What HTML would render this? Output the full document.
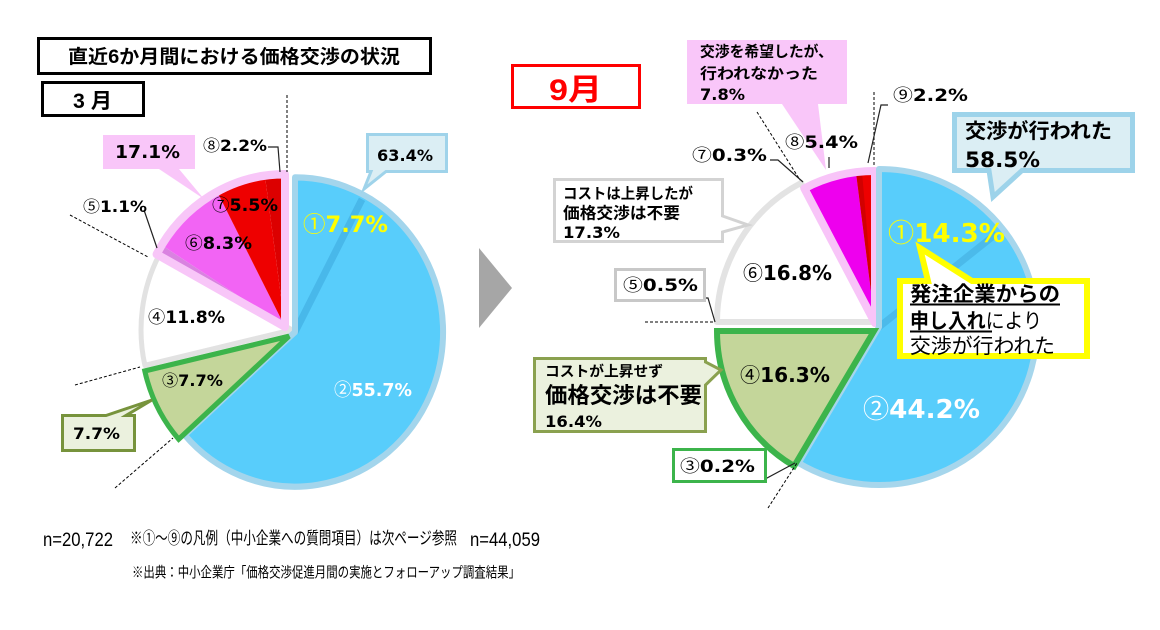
<!DOCTYPE html>
<html><head><meta charset="utf-8">
<style>
html,body{margin:0;padding:0;background:#fff;width:1160px;height:630px;overflow:hidden}
svg{display:block}
.p{font-family:"DejaVu Sans","Noto Sans CJK JP",sans-serif;font-weight:bold}
.c{font-family:"Noto Sans CJK JP",sans-serif;font-weight:normal}
.j{font-family:"Liberation Sans","Noto Sans CJK JP",sans-serif;font-weight:bold}
.n{font-family:"Liberation Sans","Noto Sans CJK JP",sans-serif;font-weight:normal}
</style></head>
<body>
<svg width="1160" height="630" viewBox="0 0 1160 630" xmlns="http://www.w3.org/2000/svg">
<rect width="1160" height="630" fill="#fff"/>

<!-- Title -->
<rect x="38.5" y="38.5" width="392" height="35" fill="#fff" stroke="#000" stroke-width="3"/>
<text class="j" x="68" y="63" font-size="19" textLength="332" lengthAdjust="spacingAndGlyphs">直近6か月間における価格交渉の状況</text>
<rect x="42.5" y="82.5" width="101" height="33" fill="#fff" stroke="#000" stroke-width="3"/>
<text class="j" x="73" y="108" font-size="21" textLength="39" lengthAdjust="spacingAndGlyphs">3 月</text>

<!-- Arrow -->
<polygon points="479,248 479,328 512,288" fill="#a6a6a6"/>

<!-- LEFT PIE -->
<g transform="translate(295,332) scale(1,1.045)">
  <path d="M-3,-2 L-150.1,32 A151,151 0 0 1 -135.8,-73.8 Z" fill="#fff" stroke="#e2e2e2" stroke-width="5" stroke-linejoin="round"/>
  <path d="M-10,-5 L-138.4,-74.4 A146,146 0 0 1 -133.3,-83.2 Z" fill="#d982e0"/>
  <path d="M-10,-5 L-133.3,-83.2 A146,146 0 0 1 -77.9,-134.3 Z" fill="#f264f4"/>
  <path d="M-10,-5 L-77.9,-134.3 A146,146 0 0 1 -30.1,-149.6 Z" fill="#ee0000"/>
  <path d="M-10,-5 L-30.1,-149.6 A146,146 0 0 1 -10,-151 Z" fill="#dc0000"/>
  <path d="M-10,-5 L-138.4,-74.4 A146,146 0 0 1 -10,-151 Z" fill="none" stroke="#f8c6f8" stroke-width="8" stroke-linejoin="round"/>
  <path d="M0,0 L0,-148 A148,148 0 1 1 -110.3,98.6 Z" fill="#58cdfb"/>
  <line x1="0" y1="0" x2="67" y2="-127" stroke="#48b8ea" stroke-width="7"/>
  <path d="M0,0 L0,-148 A148,148 0 1 1 -110.3,98.6 Z" fill="none" stroke="#a3d5ec" stroke-width="6" stroke-linejoin="round"/>
  <path d="M-6,4 L-116.3,102.6 A148,148 0 0 1 -150.2,37.3 Z" fill="#c4d69a" stroke="#3cb44b" stroke-width="5"/>
</g>

<!-- LEFT dashed / leaders -->
<g stroke="#000" stroke-width="1" stroke-dasharray="3,2" fill="none">
  <line x1="287" y1="95" x2="287" y2="172"/>
  <line x1="70" y1="215" x2="148" y2="257"/>
  <line x1="75" y1="385" x2="140" y2="367"/>
  <line x1="115" y1="488" x2="173" y2="438"/>
</g>
<g stroke="#222" stroke-width="1.2" fill="none">
  <polyline points="268,147 278,147 280,172"/>
  <line x1="144" y1="210" x2="157" y2="248"/>
</g>

<!-- LEFT callouts -->
<path d="M103,135 H195 V169 H179 L204,199 L159,169 H103 Z" fill="#f9c6f9"/>
<text class="p" x="115" y="158" font-size="18" textLength="65" lengthAdjust="spacingAndGlyphs">17.1%</text>
<path d="M367.5,134.5 H446.5 V171.5 H386 L364,189 L371,171.5 H367.5 Z" fill="#dbeef4" stroke="#9fd3ea" stroke-width="3"/>
<text class="p" x="377" y="161" font-size="16" textLength="56" lengthAdjust="spacingAndGlyphs">63.4%</text>
<path d="M62.5,415.5 H106 L152,400 L126,415.5 H134.5 V450.5 H62.5 Z" fill="#ebf1de" stroke="#77933c" stroke-width="3"/>
<text class="p" x="73" y="439" font-size="16" textLength="47" lengthAdjust="spacingAndGlyphs">7.7%</text>

<!-- LEFT labels -->
<text class="p" x="203" y="151" font-size="16" textLength="64" lengthAdjust="spacingAndGlyphs"><tspan class="c">⑧</tspan>2.2%</text>
<text class="p" x="303" y="232" font-size="22" fill="#ffff00" textLength="85" lengthAdjust="spacingAndGlyphs"><tspan class="c">①</tspan>7.7%</text>
<text class="p" x="212" y="211" font-size="17" textLength="66" lengthAdjust="spacingAndGlyphs"><tspan class="c">⑦</tspan>5.5%</text>
<text class="p" x="185" y="249" font-size="17" textLength="67" lengthAdjust="spacingAndGlyphs"><tspan class="c">⑥</tspan>8.3%</text>
<text class="p" x="83" y="212" font-size="16" textLength="64" lengthAdjust="spacingAndGlyphs"><tspan class="c">⑤</tspan>1.1%</text>
<text class="p" x="148" y="323" font-size="17" textLength="77" lengthAdjust="spacingAndGlyphs"><tspan class="c">④</tspan>11.8%</text>
<text class="p" x="162" y="386" font-size="16" textLength="61" lengthAdjust="spacingAndGlyphs"><tspan class="c">③</tspan>7.7%</text>
<text class="p" x="334" y="396" font-size="18" fill="#fff" textLength="78" lengthAdjust="spacingAndGlyphs"><tspan class="c">②</tspan>55.7%</text>

<!-- 9月 -->
<rect x="512.5" y="65.5" width="127" height="42" fill="#fff" stroke="#ff0000" stroke-width="3"/>
<text class="j" x="549" y="100" font-size="30" fill="#ff0000" textLength="53" lengthAdjust="spacingAndGlyphs">9月</text>

<!-- RIGHT PIE -->
<path d="M874,322 L717,322 A157,157 0 0 1 801,183 Z" fill="#fff" stroke="#e3e3e3" stroke-width="6" stroke-linejoin="round"/>
<path d="M875,323 L804.3,188.4 A152,152 0 0 1 807,187.1 Z" fill="#f8c0f8"/>
<path d="M875,323 L807,187.1 A152,152 0 0 1 856,172.2 Z" fill="#ee00ee"/>
<path d="M875,323 L856,172.2 A152,152 0 0 1 875,171 Z" fill="#ee0000"/>
<path d="M875,323 L856,172.2 A152,152 0 0 1 862,171.6 Z" fill="#d20000"/>
<path d="M875,323 L804.3,188.4 A152,152 0 0 1 875,171 Z" fill="none" stroke="#f8c4f8" stroke-width="8" stroke-linejoin="round"/>
<path d="M879,327 L879,169 A158,158 0 1 1 798.6,463 Z" fill="#58cdfb"/>
<line x1="879" y1="327" x2="996.4" y2="233.6" stroke="#4bbaea" stroke-width="7"/>
<path d="M879,327 L879,169 A158,158 0 1 1 798.6,463 Z" fill="none" stroke="#a6d6ec" stroke-width="6" stroke-linejoin="round"/>
<path d="M874,331 L794.1,466.1 A157,157 0 0 1 717,331 Z" fill="#c4d69a" stroke="#3cb44b" stroke-width="6"/>

<!-- RIGHT dashed / leaders -->
<g stroke="#000" stroke-width="1" stroke-dasharray="3,2" fill="none">
  <line x1="874" y1="92" x2="874" y2="165"/>
  <line x1="757" y1="112" x2="800" y2="180"/>
  <line x1="645" y1="322" x2="715" y2="322"/>
  <line x1="768" y1="508" x2="797" y2="463"/>
</g>
<g stroke="#222" stroke-width="1.2" fill="none">
  <polyline points="888,105 881,105 868,163"/>
  <line x1="829" y1="157" x2="829" y2="168"/>
  <polyline points="770,160 778,160 803,182"/>
  <polyline points="705,298 708,298 715,322"/>
  <polyline points="758,478 767,478 795,463"/>
</g>

<!-- RIGHT callouts -->
<path d="M687,40 H847 V104 H818 L826,170 L782,104 H687 Z" fill="#f9c6f9"/>
<text class="j" x="700" y="56.5" font-size="15" textLength="133" lengthAdjust="spacingAndGlyphs">交渉を希望したが、</text>
<text class="j" x="700" y="78.5" font-size="15" textLength="118" lengthAdjust="spacingAndGlyphs">行われなかった</text>
<text class="p" x="700" y="100" font-size="16" textLength="45" lengthAdjust="spacingAndGlyphs">7.8%</text>

<path d="M554.5,179.5 H722.5 V216 L748,225 L722.5,232 V241.5 H554.5 Z" fill="#fff" stroke="#d3d3d3" stroke-width="3"/>
<text class="j" x="563" y="198.5" font-size="15" textLength="130" lengthAdjust="spacingAndGlyphs">コストは上昇したが</text>
<text class="j" x="563" y="218.5" font-size="16" textLength="117" lengthAdjust="spacingAndGlyphs">価格交渉は不要</text>
<text class="p" x="563" y="238" font-size="16" textLength="57" lengthAdjust="spacingAndGlyphs">17.3%</text>

<rect x="615.5" y="269.5" width="89" height="31" fill="#fff" stroke="#c8c8c8" stroke-width="3"/>
<text class="p" x="623" y="291" font-size="17" textLength="75" lengthAdjust="spacingAndGlyphs"><tspan class="c">⑤</tspan>0.5%</text>

<path d="M534.5,358.5 H705.5 V362 L721,370 L705.5,385 V431.5 H534.5 Z" fill="#ebf1de" stroke="#8aa14f" stroke-width="3"/>
<text class="j" x="545" y="376.5" font-size="14.5" textLength="118" lengthAdjust="spacingAndGlyphs">コストが上昇せず</text>
<text class="j" x="545" y="403" font-size="22" textLength="157" lengthAdjust="spacingAndGlyphs">価格交渉は不要</text>
<text class="p" x="545" y="427" font-size="16" textLength="57" lengthAdjust="spacingAndGlyphs">16.4%</text>

<rect x="673.5" y="449.5" width="92" height="32" fill="#fff" stroke="#3cb44b" stroke-width="3"/>
<text class="p" x="680" y="472" font-size="17" textLength="75" lengthAdjust="spacingAndGlyphs"><tspan class="c">③</tspan>0.2%</text>

<path d="M954.5,114.5 H1132.5 V170.5 H1022 L993,197 L989,170.5 H954.5 Z" fill="#dbeef4" stroke="#9dd3ea" stroke-width="5"/>
<text class="j" x="965" y="138" font-size="20.5" textLength="147" lengthAdjust="spacingAndGlyphs">交渉が行われた</text>
<text class="p" x="965" y="167" font-size="21" textLength="75" lengthAdjust="spacingAndGlyphs">58.5%</text>

<!-- RIGHT labels -->
<text class="p" x="893" y="101" font-size="17" textLength="75" lengthAdjust="spacingAndGlyphs"><tspan class="c">⑨</tspan>2.2%</text>
<text class="p" x="785" y="148" font-size="17" textLength="73" lengthAdjust="spacingAndGlyphs"><tspan class="c">⑧</tspan>5.4%</text>
<text class="p" x="692" y="161" font-size="17" textLength="75" lengthAdjust="spacingAndGlyphs"><tspan class="c">⑦</tspan>0.3%</text>
<text class="p" x="743" y="280" font-size="20" textLength="89" lengthAdjust="spacingAndGlyphs"><tspan class="c">⑥</tspan>16.8%</text>
<text class="p" x="740" y="382" font-size="20" textLength="90" lengthAdjust="spacingAndGlyphs"><tspan class="c">④</tspan>16.3%</text>
<text class="p" x="863" y="418" font-size="26" fill="#fff" textLength="117" lengthAdjust="spacingAndGlyphs"><tspan class="c">②</tspan>44.2%</text>
<text class="p" x="888" y="242" font-size="26" fill="#ffff00" textLength="117" lengthAdjust="spacingAndGlyphs"><tspan class="c">①</tspan>14.3%</text>

<!-- Yellow callout -->
<path d="M900,281 H928 L920,248 L972,281 H1087 V356 H900 Z" fill="#fff" stroke="#ffff00" stroke-width="6"/>
<text class="j" x="910" y="301" font-size="20.5" textLength="150" lengthAdjust="spacingAndGlyphs">発注企業からの</text>
<line x1="910" y1="304.5" x2="1060" y2="304.5" stroke="#000" stroke-width="2"/>
<text class="n" x="910" y="328" font-size="20.5" textLength="132" lengthAdjust="spacingAndGlyphs"><tspan class="j">申し入れ</tspan>により</text>
<line x1="910" y1="331.5" x2="992" y2="331.5" stroke="#000" stroke-width="2"/>
<text class="n" x="910" y="353" font-size="20.5" textLength="145" lengthAdjust="spacingAndGlyphs">交渉が行われた</text>

<!-- Bottom notes -->
<text class="n" x="43" y="546" font-size="19.5" textLength="70" lengthAdjust="spacingAndGlyphs">n=20,722</text>
<text class="n" x="130" y="544" font-size="17" textLength="327" lengthAdjust="spacingAndGlyphs">※①～⑨の凡例（中小企業への質問項目）は次ページ参照</text>
<text class="n" x="470" y="546" font-size="19.5" textLength="70" lengthAdjust="spacingAndGlyphs">n=44,059</text>
<text class="n" x="132" y="577.5" font-size="14.5" textLength="388" lengthAdjust="spacingAndGlyphs">※出典：中小企業庁「価格交渉促進月間の実施とフォローアップ調査結果」</text>
</svg>
</body></html>
